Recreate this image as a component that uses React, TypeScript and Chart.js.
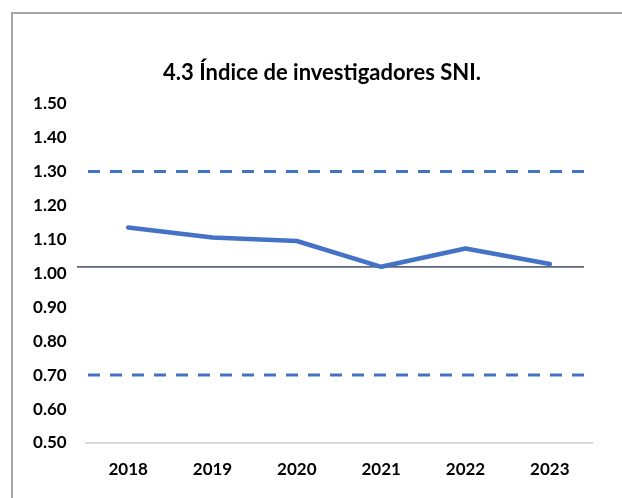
import React, { useEffect, useRef } from "react";
import { Chart, registerables } from "chart.js";

Chart.register(...registerables);

const titleText = "4.3 Índice de investigadores SNI.";
const years = ["2018", "2019", "2020", "2021", "2022", "2023"];
const indice = [1.135, 1.105, 1.095, 1.019, 1.073, 1.027];
const upperLimit = 1.3;
const lowerLimit = 0.7;
const referenceLine = 1.019;
const yMin = 0.5;
const yMax = 1.5;
const yStep = 0.1;

const BLUE = "#4472C4";
const FONT = "Lato, 'DejaVu Sans', sans-serif";

const refLinesPlugin = {
  id: "refLines",
  beforeDatasetsDraw(chart: any) {
    const { ctx, chartArea } = chart;
    const y = chart.scales.y;
    ctx.save();
    ctx.strokeStyle = BLUE;
    ctx.lineWidth = 3;
    ctx.setLineDash([12, 10]);
    [upperLimit, lowerLimit].forEach((v) => {
      const py = y.getPixelForValue(v);
      ctx.beginPath();
      ctx.moveTo(chartArea.left + 2, py);
      ctx.lineTo(chartArea.right - 5, py);
      ctx.stroke();
    });
    ctx.setLineDash([]);
    ctx.strokeStyle = "#5b6577";
    ctx.lineWidth = 1.8;
    const pr = y.getPixelForValue(referenceLine);
    ctx.beginPath();
    ctx.moveTo(chartArea.left - 9, pr);
    ctx.lineTo(chartArea.right - 8, pr);
    ctx.stroke();
    ctx.restore();
  },
};

export default function App() {
  const ref = useRef<HTMLCanvasElement>(null);
  useEffect(() => {
    document.documentElement.style.overflow = "hidden";
    document.body.style.overflow = "hidden";
    if (!ref.current) return;
    const chart = new Chart(ref.current, {
      type: "line",
      data: {
        labels: years,
        datasets: [
          {
            data: indice,
            borderColor: BLUE,
            backgroundColor: BLUE,
            borderWidth: 4.5,
            pointRadius: 0,
            tension: 0,
            borderCapStyle: "round",
            borderJoinStyle: "round",
          },
        ],
      },
      options: {
        responsive: false,
        animation: false,
        layout: { padding: { left: 17, right: 0, top: 0, bottom: 10 } },
        plugins: {
          legend: { display: false },
          tooltip: { enabled: false },
          title: {
            display: true,
            text: titleText,
            color: "#000",
            font: { family: FONT, size: 22, weight: "bold" },
            padding: { top: 45.8, bottom: 17.3 },
          },
        },
        scales: {
          x: {
            offset: true,
            grid: { display: false, drawTicks: false },
            border: { display: true, color: "#d9d9d9", width: 2 },
            ticks: {
              color: "#000",
              padding: 16.3,
              font: { family: FONT, size: 17, weight: "bold" },
            },
          },
          y: {
            min: yMin,
            max: yMax,
            grid: { display: false, drawTicks: false },
            border: { display: false },
            afterFit: (s: any) => {
              s.width = 56;
            },
            ticks: {
              stepSize: yStep,
              color: "#000",
              padding: 19.3,
              font: { family: FONT, size: 17, weight: "bold" },
              callback: (v: any) => Number(v).toFixed(2),
            },
          },
          yRight: {
            position: "right",
            display: true,
            grid: { display: false, drawTicks: false },
            border: { display: false },
            ticks: { display: false },
            afterFit: (s: any) => {
              s.width = 22;
            },
          },
        },
      },
      plugins: [refLinesPlugin],
    });
    return () => chart.destroy();
  }, []);

  return (
    <div
      style={{
        position: "fixed",
        left: 0,
        top: 0,
        right: 0,
        bottom: 0,
        overflow: "hidden",
        background: "#fff",
      }}
    >
      <div
        style={{
          position: "absolute",
          left: 11,
          top: 12,
          width: 700,
          height: 560,
          borderTop: "2px solid #a6a6a6",
          borderLeft: "2px solid #a6a6a6",
          background: "#fff",
        }}
      >
        <canvas ref={ref} width={601} height={492} style={{ display: "block" }} />
      </div>
    </div>
  );
}
